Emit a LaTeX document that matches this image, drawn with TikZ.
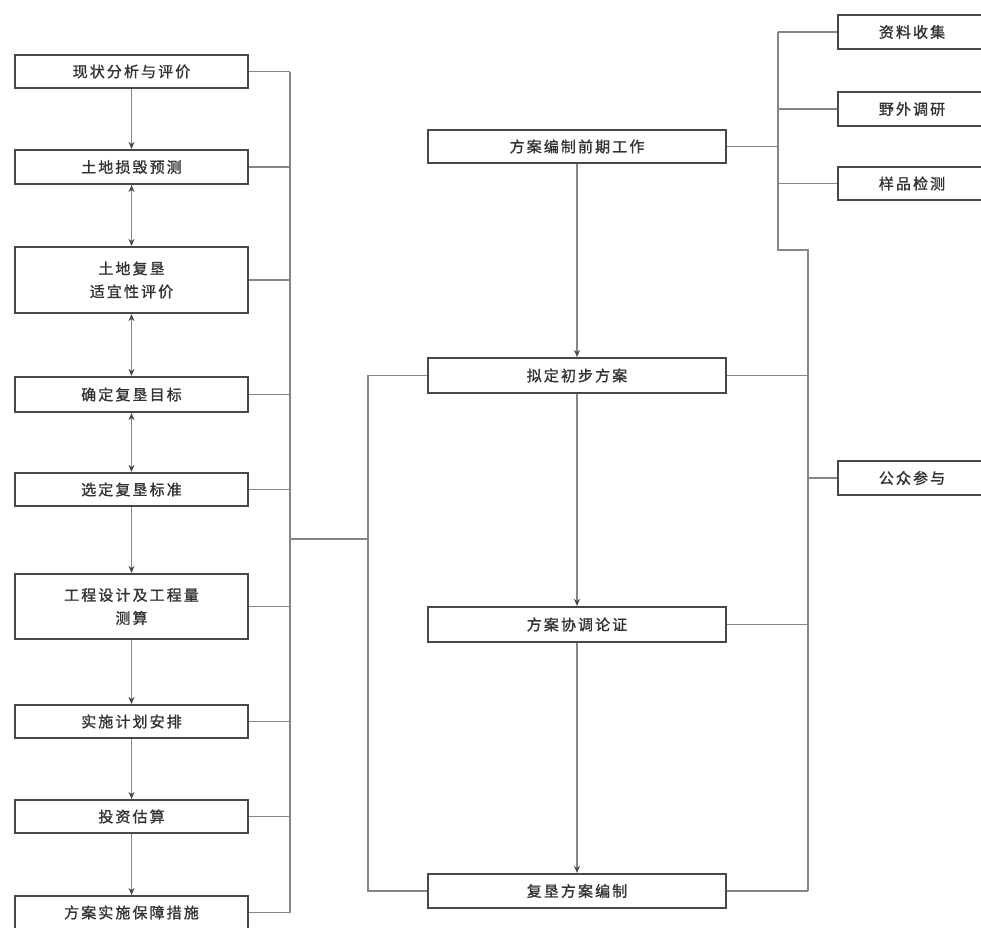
\documentclass[tikz,border=0pt]{standalone}
\usepackage{fontspec}
\newfontfamily\cjk[LetterSpace=14,FakeBold=1.2]{Noto Sans CJK SC}
\usetikzlibrary{arrows.meta}
\definecolor{boxc}{HTML}{484848}
\definecolor{linec}{HTML}{858585}
\definecolor{txtc}{HTML}{333333}
\begin{document}
\begin{tikzpicture}[x=1pt,y=-1pt,
  box/.style={draw=boxc,line width=2.2pt,fill=white,inner sep=0pt,align=center,
    font=\cjk\fontsize{15}{23}\selectfont,text=txtc},
  lbox/.style={box,minimum width=233pt},
  mbox/.style={box,minimum width=298pt},
  rbox/.style={box,minimum width=148pt},
  conn/.style={draw=linec,line width=1.6pt},
  tip/.tip={Stealth[length=7pt,width=6pt,color=boxc]},
  arr/.style={conn,-tip},
  darr/.style={conn,tip-tip}]
\fill[white] (0,0) rectangle (981,927);
\clip (0,0) rectangle (981,927);
% left column
\node[lbox,minimum height=33pt] (L1) at (131.5,71.5) {现状分析与评价};
\node[lbox,minimum height=34pt] (L2) at (131.5,167) {土地损毁预测};
\node[lbox,minimum height=66pt] (L3) at (131.5,280) {土地复垦\\适宜性评价};
\node[lbox,minimum height=35pt] (L4) at (131.5,394.5) {确定复垦目标};
\node[lbox,minimum height=33pt] (L5) at (131.5,489.5) {选定复垦标准};
\node[lbox,minimum height=65pt] (L6) at (131.5,606.5) {工程设计及工程量\\测算};
\node[lbox,minimum height=33pt] (L7) at (131.5,721.5) {实施计划安排};
\node[lbox,minimum height=33pt] (L8) at (131.5,816.5) {投资估算};
\node[lbox,minimum height=33pt] (L9) at (131.5,912.5) {方案实施保障措施};
% middle column
\node[mbox,minimum height=33pt] (M1) at (577,146.5) {方案编制前期工作};
\node[mbox,minimum height=35pt] (M2) at (577,375.5) {拟定初步方案};
\node[mbox,minimum height=35pt] (M3) at (577,624.5) {方案协调论证};
\node[mbox,minimum height=34pt] (M4) at (577,891) {复垦方案编制};
% right column
\node[rbox,minimum height=34pt] (R1) at (912,32) {资料收集};
\node[rbox,minimum height=34pt] (R2) at (912,109) {野外调研};
\node[rbox,minimum height=33pt] (R3) at (912,183.5) {样品检测};
\node[rbox,minimum height=34pt] (R4) at (912,478) {公众参与};
% bus coordinates
\coordinate (bl) at (290,0);
\coordinate (bm) at (368,0);
\coordinate (ba) at (778,0);
\coordinate (bb) at (808,0);
\coordinate (jL) at (290,539);
\coordinate (jR) at (368,539);
\coordinate (k1) at (778,250);
\coordinate (k2) at (808,250);
% left arrows
\draw[arr] (L1) -- (L2);
\draw[darr] (L2) -- (L3);
\draw[darr] (L3) -- (L4);
\draw[darr] (L4) -- (L5);
\draw[arr] (L5) -- (L6);
\draw[arr] (L6) -- (L7);
\draw[arr] (L7) -- (L8);
\draw[arr] (L8) -- (L9);
% left bus
\foreach \n in {L1,L2,L3,L4,L5,L6,L7,L8,L9}
  \draw[conn] (\n.east) -- (\n.east -| bl);
\draw[conn] (L1.east -| bl) -- (L9.east -| bl);
\draw[conn] (jL) -- (jR);
% middle left bus
\draw[conn] (M2.west) -- (M2.west -| bm) -- (M4.west -| bm) -- (M4.west);
% middle arrows
\draw[arr] (M1) -- (M2);
\draw[arr] (M2) -- (M3);
\draw[arr] (M3) -- (M4);
% right buses
\foreach \n in {R1,R2,R3}
  \draw[conn] (\n.west) -- (\n.west -| ba);
\draw[conn] (M1.east) -- (M1.east -| ba);
\draw[conn] (R1.west -| ba) -- (k1) -- (k2) -- (M4.east -| bb);
\foreach \n in {M2,M3,M4}
  \draw[conn] (\n.east) -- (\n.east -| bb);
\draw[conn] (R4.west) -- (R4.west -| bb);
\end{tikzpicture}
\end{document}
